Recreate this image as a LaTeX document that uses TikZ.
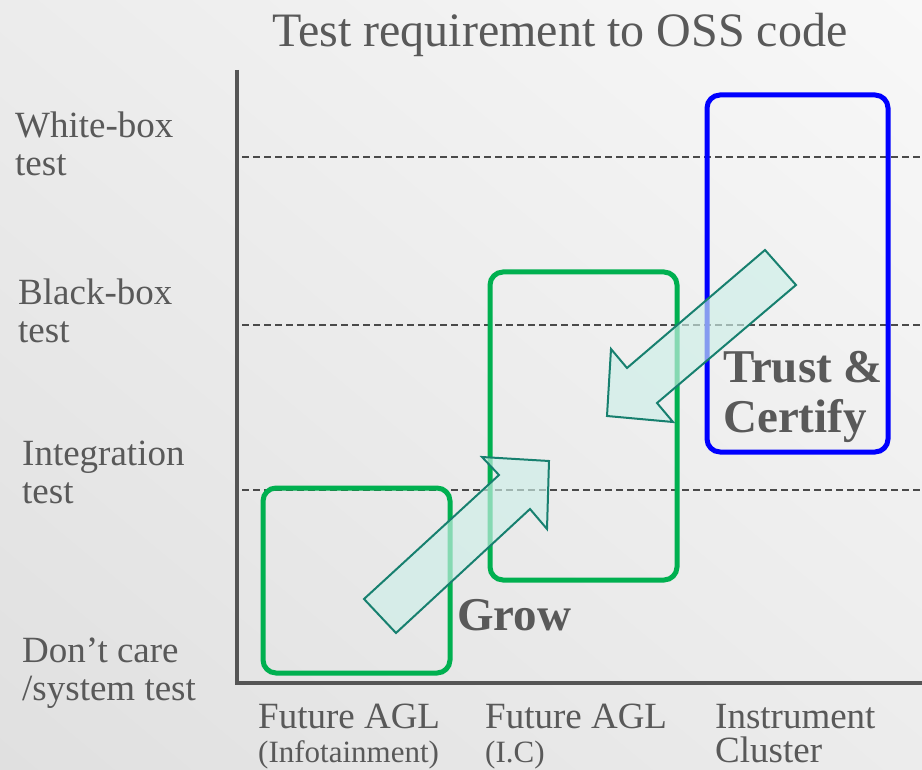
\documentclass[tikz,border=0pt]{standalone}
\usepackage{fontspec}
\setmainfont{Liberation Serif}
\usetikzlibrary{shadings}
\definecolor{txt}{HTML}{595959}
\definecolor{axisc}{HTML}{555555}
\definecolor{dash}{HTML}{4A4A4A}
\definecolor{grn}{HTML}{00B050}
\definecolor{blu}{HTML}{0000FF}
\definecolor{arrfill}{HTML}{CDEFE8}
\definecolor{arredge}{HTML}{17806F}
\definecolor{bgul}{HTML}{ECECEC}
\definecolor{bgur}{HTML}{F8F8F8}
\definecolor{bgll}{HTML}{E0E0E0}
\definecolor{bglr}{HTML}{ECECEC}
\begin{document}
\begin{tikzpicture}[x=1pt,y=-1pt,
  lbl/.style={anchor=base west,inner sep=0pt,text=txt,font=\fontsize{37}{39}\selectfont},
  sublbl/.style={anchor=base west,inner sep=0pt,text=txt,font=\fontsize{31}{34}\selectfont},
  big/.style={anchor=base west,inner sep=0pt,text=txt,font=\fontsize{47}{50}\selectfont\bfseries},
  grid/.style={draw=dash,line width=1.6pt,dash pattern=on 7pt off 4pt},
  gbox/.style={draw=grn,line width=5pt,rounded corners=13pt},
  bbox/.style={draw=blu,line width=5pt,rounded corners=13pt},
  blockarrow/.style={draw=arredge,line width=2pt,fill=arrfill,fill opacity=0.65,line join=miter}]
\useasboundingbox (0,0) rectangle (922,770);
\shade[upper left=bgul,upper right=bgur,lower left=bgll,lower right=bglr]
  (0,0) rectangle (922,770);
% title
\node[anchor=base west,inner sep=0pt,text=txt,font=\fontsize{48}{50}\selectfont] (title) at (272,47) {Test requirement to OSS code};
% dashed grid lines
\coordinate (d1a) at (242,157); \coordinate (d1b) at (922,157);
\coordinate (d2a) at (242,325); \coordinate (d2b) at (922,325);
\coordinate (d3a) at (242,490); \coordinate (d3b) at (922,490);
\draw[grid] (d1a) -- (d1b);
\draw[grid] (d2a) -- (d2b);
\draw[grid] (d3a) -- (d3b);
% axes
\coordinate (ytop) at (237,70);
\coordinate (orig) at (237,683);
\coordinate (xend) at (922,683);
\draw[draw=axisc,line width=4pt,line join=miter] (ytop) -- (orig) -- (xend);
% boxes
\draw[gbox] (263,488) rectangle (450,673);
\draw[gbox] (490,272) rectangle (677,580);
\draw[bbox] (707,95) rectangle (888,452);
% block arrows
\draw[blockarrow] (364,599) -- (499,475) -- (482,457) -- (549,461) -- (547,529) -- (530,509) -- (396,633) -- cycle;
\draw[blockarrow] (765,250) -- (627,368) -- (611,349) -- (607,416) -- (673,422) -- (657,403) -- (796,285) -- cycle;
% left labels
\node[lbl] (wb1) at (15,138) {White-box};
\node[lbl] (wb2) at (15,176) {test};
\node[lbl] (bb1) at (18,305) {Black-box};
\node[lbl] (bb2) at (18,343) {test};
\node[lbl] (it1) at (22,465) {Integration};
\node[lbl] (it2) at (22,503) {test};
\node[lbl] (dc1) at (22,662) {Don’t care};
\node[lbl] (dc2) at (22,700) {/system test};
% bottom labels
\node[lbl] (fa1) at (258,728) {Future AGL};
\node[sublbl] (fa2) at (258,762) {(Infotainment)};
\node[lbl] (fb1) at (485,728) {Future AGL};
\node[sublbl] (fb2) at (485,762) {(I.C)};
\node[lbl] (ic1) at (715,728) {Instrument};
\node[lbl] (ic2) at (715,762) {Cluster};
% emphasis labels
\node[big] (grow) at (457,630) {Grow};
\node[big] (trust) at (723,383) {Trust \&};
\node[big] (cert) at (723,432) {Certify};
\end{tikzpicture}
\end{document}
